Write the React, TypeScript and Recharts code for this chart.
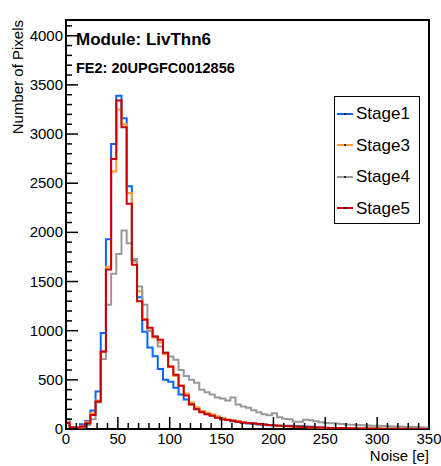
import React from 'react'
import { LineChart, Line, XAxis, YAxis, Legend, ReferenceArea } from 'recharts'

// lower bin edges in noise [e]; first bin is cut by the axis at 0
const binLow = [0, ...Array.from({ length: 70 }, (_, i) => 3.5 + 5 * i)]

const stage1 = [70, 15, 15, 48, 82, 187, 381, 976, 1929, 2900, 3390, 3160, 2470, 1720, 1340, 990, 830, 740, 610, 500, 480, 420, 350, 300, 255, 210, 178, 160, 140, 120, 105, 92, 80, 70, 62, 55, 50, 46, 42, 38, 35, 33, 32, 32, 30, 28, 25, 22, 18, 14, 10, 8, 6, 5, 4, 3, 3, 2, 2, 2, 1, 1, 1, 1, 1, 1, 1, 1, 1, 1, 1]
const stage3 = [70, 15, 12, 30, 70, 160, 290, 780, 1650, 2620, 3250, 3100, 2400, 1700, 1400, 1120, 1000, 930, 880, 760, 630, 540, 440, 360, 270, 220, 185, 165, 150, 130, 110, 98, 88, 78, 68, 62, 56, 50, 46, 40, 36, 32, 28, 25, 22, 20, 18, 16, 14, 12, 11, 10, 9, 8, 7, 6, 5, 5, 4, 4, 3, 3, 3, 2, 2, 2, 1, 1, 1, 1, 1]
const stage4 = [100, 20, 15, 15, 41, 99, 270, 711, 1265, 1580, 1780, 2020, 1890, 1730, 1450, 1265, 1000, 940, 840, 775, 738, 704, 600, 540, 500, 470, 400, 375, 350, 320, 310, 290, 320, 250, 230, 215, 190, 170, 150, 140, 160, 120, 105, 100, 75, 75, 95, 90, 80, 68, 62, 58, 55, 50, 45, 42, 40, 38, 36, 34, 32, 30, 28, 26, 25, 23, 22, 20, 18, 16, 15]
const stage5 = [60, 15, 12, 25, 58, 143, 279, 789, 1622, 2745, 3340, 3070, 2290, 1670, 1300, 1112, 1030, 942, 908, 775, 636, 551, 440, 340, 250, 200, 170, 150, 135, 115, 100, 92, 85, 75, 66, 62, 58, 52, 46, 40, 36, 32, 30, 28, 25, 22, 20, 18, 16, 14, 12, 11, 10, 9, 8, 7, 6, 5, 5, 4, 4, 3, 3, 3, 2, 2, 2, 1, 1, 1, 1]

const xTicks = Array.from({ length: 36 }, (_, i) => i * 10)
const yTicks = Array.from({ length: 42 }, (_, i) => i * 100)
const X_MAX = 350
const Y_MAX = 4160

const colors = {
  stage1: '#0a64ff',
  stage3: '#ff9933',
  stage4: '#999999',
  stage5: '#cc0000',
}

const font = '"Liberation Sans", Arial, Helvetica, sans-serif'

const rows = binLow.map((x, i) => ({
  noise: x,
  stage1: stage1[i],
  stage3: stage3[i],
  stage4: stage4[i],
  stage5: stage5[i],
}))
rows.push({ ...rows[rows.length - 1], noise: X_MAX })

const XTick = (props: any) => {
  const { x, y, payload } = props
  const major = payload.value % 50 === 0
  return (
    <g>
      <line x1={x} x2={x} y1={y} y2={y - (major ? 12 : 6)} stroke="#000" strokeWidth={1.5} />
      {major && (
        <text x={x} y={y} dy={15} textAnchor="middle" fontSize={15} fontFamily={font} fill="#000">
          {payload.value}
        </text>
      )}
    </g>
  )
}

const YTick = (props: any) => {
  const { x, y, payload } = props
  const major = payload.value % 500 === 0
  return (
    <g>
      <line x1={x} x2={x + (major ? 12 : 6)} y1={y} y2={y} stroke="#000" strokeWidth={1.5} />
      {major && (
        <text x={x - 3} y={y} dy={5} textAnchor="end" fontSize={15} fontFamily={font} fill="#000">
          {payload.value}
        </text>
      )}
    </g>
  )
}

const YTitle = () => (
  <text x={17} y={20} transform="rotate(-90 17 20)" textAnchor="end" dominantBaseline="central" fontSize={15} fontFamily={font} fill="#000">
    Number of Pixels
  </text>
)

const StageLegend = ({ payload }: any) => (
  <div style={{ width: 86, height: 128, boxSizing: 'border-box', border: '1.5px solid #000', background: '#fff', paddingTop: 1, fontFamily: font }}>
    {(payload || []).map((entry: any) => (
      <div key={entry.value} style={{ height: 31.5, display: 'flex', alignItems: 'center' }}>
        <svg width={21} height={10} style={{ flex: 'none' }}>
          <line x1={2} x2={18} y1={5} y2={5} stroke={entry.color} strokeWidth={2} />
          <circle cx={10} cy={5} r={1} fill="#000" />
        </svg>
        <span style={{ fontSize: 17, color: '#000', lineHeight: 1 }}>{entry.value}</span>
      </div>
    ))}
  </div>
)

const App = () => {
  return (
    <div style={{ position: 'absolute', left: 0, top: 0, width: 441, height: 466, background: '#fff' }}>
      <LineChart width={441} height={466} data={rows} margin={{ top: 20, right: 12, bottom: 5, left: 16 }}>
        <XAxis
          dataKey="noise"
          type="number"
          domain={[0, X_MAX]}
          ticks={xTicks}
          interval={0}
          allowDataOverflow
          height={32}
          tickSize={0}
          tickMargin={0}
          tickLine={false}
          axisLine={false}
          tick={<XTick />}
          label={{ value: 'Noise [e]', position: 'insideBottomRight', offset: 0, fontSize: 15, fontFamily: font, fill: '#000' }}
        />
        <YAxis
          type="number"
          domain={[0, Y_MAX]}
          ticks={yTicks}
          interval={0}
          allowDataOverflow
          width={50}
          tickSize={0}
          tickMargin={0}
          tickLine={false}
          axisLine={false}
          tick={<YTick />}
          label={<YTitle />}
        />
        <ReferenceArea x1={0} x2={X_MAX} y1={0} y2={Y_MAX} fill="none" stroke="#000" strokeWidth={2} ifOverflow="visible" />
        <Legend
          layout="vertical"
          align="center"
          verticalAlign="middle"
          wrapperStyle={{ left: 334, top: 96, width: 86, height: 128 }}
          content={<StageLegend />}
        />
        <Line type="stepAfter" dataKey="stage1" name="Stage1" stroke={colors.stage1} strokeWidth={2} dot={false} isAnimationActive={false} />
        <Line type="stepAfter" dataKey="stage3" name="Stage3" stroke={colors.stage3} strokeWidth={2} dot={false} isAnimationActive={false} />
        <Line type="stepAfter" dataKey="stage4" name="Stage4" stroke={colors.stage4} strokeWidth={2} dot={false} isAnimationActive={false} />
        <Line type="stepAfter" dataKey="stage5" name="Stage5" stroke={colors.stage5} strokeWidth={2} dot={false} isAnimationActive={false} />
      </LineChart>
      <div style={{ position: 'absolute', left: 76, top: 31, fontFamily: font, fontWeight: 'bold', fontSize: 17, lineHeight: 1, whiteSpace: 'nowrap' }}>
        Module: LivThn6
      </div>
      <div style={{ position: 'absolute', left: 76, top: 61, fontFamily: font, fontWeight: 'bold', fontSize: 14.5, lineHeight: 1, whiteSpace: 'nowrap' }}>
        FE2: 20UPGFC0012856
      </div>
    </div>
  )
}

export default App
